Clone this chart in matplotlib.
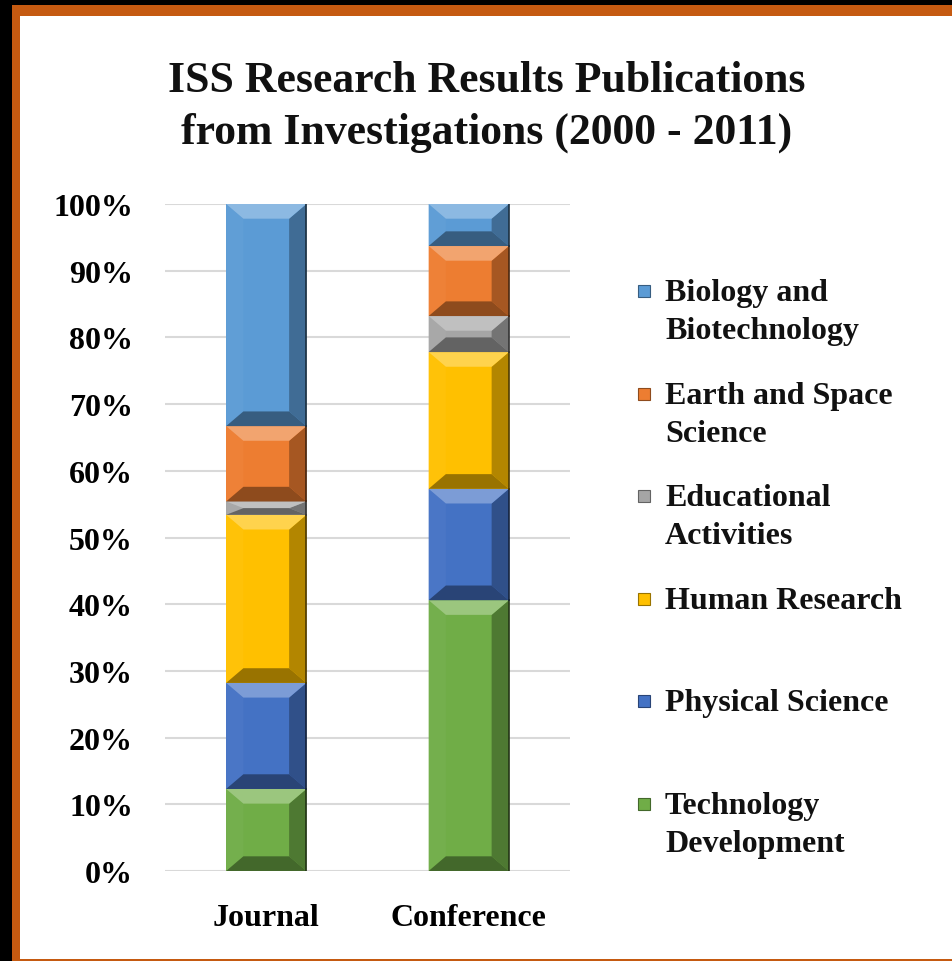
import matplotlib.pyplot as plt
import matplotlib.colors as mcolors
from matplotlib.patches import Rectangle, Polygon

plt.rcParams['font.family'] = ['Liberation Serif', 'DejaVu Serif']
plt.rcParams['font.weight'] = 'bold'

GROUPS = ['Journal', 'Conference']
CATEGORIES = ['Technology\nDevelopment', 'Physical Science', 'Human Research',
              'Educational\nActivities', 'Earth and Space\nScience',
              'Biology and\nBiotechnology']
COLORS = ['#70AD47', '#4472C4', '#FFC000', '#A5A5A5', '#ED7D31', '#5B9BD5']
JOURNAL = [12.3, 15.9, 25.2, 2.0, 11.3, 33.3]
CONFERENCE = [40.6, 16.7, 20.5, 5.4, 10.5, 6.3]
YTICKS = list(range(0, 101, 10))

W, H = 953, 962


def shade(color, amount):
    """Lighten (amount > 0) or darken (amount < 0) a colour."""
    r, g, b = mcolors.to_rgb(color)
    if amount > 0:
        return (r + (1 - r) * amount, g + (1 - g) * amount, b + (1 - b) * amount)
    return (r * (1 + amount), g * (1 + amount), b * (1 + amount))


def add_bevel(ax, patch, color, bx, by):
    x0, y0 = patch.get_x(), patch.get_y()
    w, h = patch.get_width(), patch.get_height()
    by = min(by, h / 2)
    x1, y1 = x0 + w, y0 + h
    ix0, ix1 = x0 + bx, x1 - bx
    iy0, iy1 = y0 + by, y1 - by
    faces = [
        ([(x0, y0), (x0, y1), (ix0, iy1), (ix0, iy0)], shade(color, 0.03)),   # left
        ([(x1, y0), (x1, y1), (ix1, iy1), (ix1, iy0)], shade(color, -0.3)),   # right
        ([(x0, y1), (x1, y1), (ix1, iy1), (ix0, iy1)], shade(color, 0.3)),    # top
        ([(x0, y0), (x1, y0), (ix1, iy0), (ix0, iy0)], shade(color, -0.4)),   # bottom
    ]
    for pts, c in faces:
        ax.add_patch(Polygon(pts, closed=True, facecolor=c, edgecolor='none', zorder=3))
    # thin dark line on the right edge
    ax.plot([x1, x1], [y0, y1], color=shade(color, -0.7), lw=1.2, zorder=4)


fig = plt.figure(figsize=(W / 100, H / 100), dpi=100, facecolor='black')

# orange frame and white panel (behind the axes)
fig.patches.append(Rectangle((12 / W, 0), 1, 1 - 6 / H, transform=fig.transFigure,
                             facecolor='#C55A11', edgecolor='none', zorder=-2))
fig.patches.append(Rectangle((20 / W, 2 / H), 1, 1 - 19 / H, transform=fig.transFigure,
                             facecolor='white', edgecolor='none', zorder=-1))

ax = fig.add_axes([165 / W, 90 / H, 405 / W, 667 / H])
ax.set_facecolor('none')

x = list(range(len(GROUPS)))
bar_w = 0.396
bottoms = [0.0, 0.0]
for cat, col, jv, cv in zip(CATEGORIES, COLORS, JOURNAL, CONFERENCE):
    bars = ax.bar(x, [jv, cv], bar_w, bottom=bottoms, color=col, edgecolor='none',
                  zorder=2, label=cat)
    for p in bars:
        add_bevel(ax, p, col, bx=0.085, by=2.2)
    bottoms = [bottoms[0] + jv, bottoms[1] + cv]

ax.set_xlim(-0.5, 1.5)
ax.set_ylim(0, 100)
ax.set_yticks(YTICKS)
ax.set_yticklabels([f'{v}%' for v in YTICKS], fontsize=23, fontweight='bold')
ax.set_xticks(x)
ax.set_xticklabels(GROUPS, fontsize=23, fontweight='bold')
ax.tick_params(axis='y', length=0, pad=23)
ax.tick_params(axis='x', length=0, pad=23)
ax.grid(True, axis='y', color='#D9D9D9', linewidth=1.5, zorder=0)
ax.set_axisbelow(True)
for s in ax.spines.values():
    s.set_visible(False)

fig.text(487 / W, 1 - 107 / H,
         'ISS Research Results Publications\nfrom Investigations (2000 - 2011)',
         ha='center', va='center', fontsize=31.5, fontweight='bold',
         linespacing=1.35, color='#111111')

# legend (top entry first, like the original)
for i, (cat, col) in enumerate(zip(CATEGORIES[::-1], COLORS[::-1])):
    yc = 292 + 102.6 * i
    fig.patches.append(Rectangle((638 / W, 1 - (yc + 6) / H), 12 / W, 12 / H,
                                 transform=fig.transFigure, facecolor=col,
                                 edgecolor=shade(col, -0.4), linewidth=0.8, zorder=5))
    fig.text(665 / W, 1 - (yc - 13) / H, cat, ha='left', va='top', fontsize=23,
             fontweight='bold', linespacing=1.42, color='#111111')

fig.savefig('out.png', dpi=100, facecolor=fig.get_facecolor())
